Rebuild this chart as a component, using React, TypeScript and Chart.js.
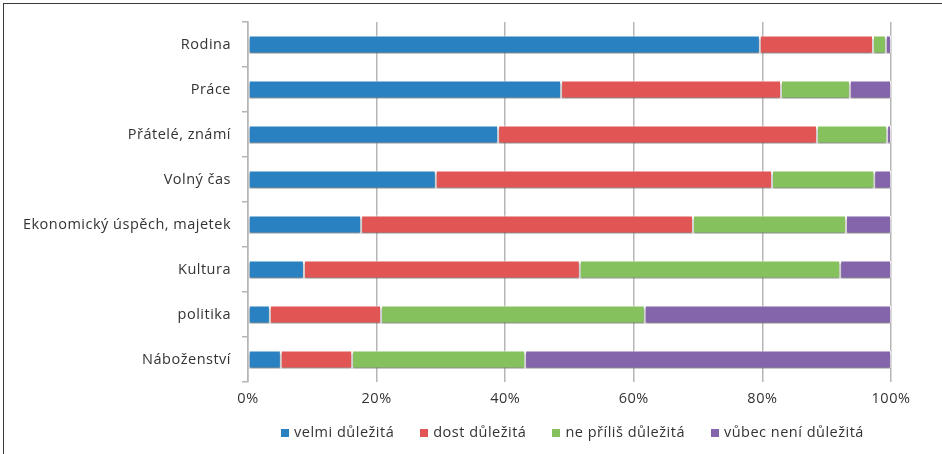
import React, { useEffect, useRef } from "react";
import { Chart, registerables } from "chart.js";

Chart.register(...registerables);

const categories = [
  "Rodina",
  "Práce",
  "Přátelé, známí",
  "Volný čas",
  "Ekonomický úspěch, majetek",
  "Kultura",
  "politika",
  "Náboženství",
];

const seriesNames = ["velmi důležitá", "dost důležitá", "ne příliš důležitá", "vůbec není důležitá"];

const velmi = [79.6, 48.7, 38.9, 29.2, 17.6, 8.7, 3.4, 5.1];
const dost = [17.6, 34.2, 49.6, 52.3, 51.6, 42.9, 17.3, 11.1];
const nePrilis = [2.0, 10.7, 10.9, 15.9, 23.8, 40.5, 41.0, 26.9];
const vubec = [0.8, 6.4, 0.6, 2.6, 7.0, 7.9, 38.3, 56.9];

const xTicks = [0, 20, 40, 60, 80, 100];

const colors = ["#2a81c2", "#e15554", "#85c15c", "#8465ac"];

const FONT = "'Open Sans', 'DejaVu Sans', sans-serif";
const FS = 14.5;
const SPACING = "0.5px";

const shadowPlugin = {
  id: "barShadow",
  beforeUpdate(chart: any) {
    chart.ctx.letterSpacing = SPACING;
  },
  beforeLayout(chart: any) {
    chart.ctx.letterSpacing = SPACING;
  },
  beforeDraw(chart: any) {
    chart.ctx.letterSpacing = SPACING;
  },
  beforeDatasetsDraw(chart: any) {
    const ctx = chart.ctx;
    ctx.save();
    ctx.shadowColor = "rgba(0,0,0,0.45)";
    ctx.shadowOffsetX = 0;
    ctx.shadowOffsetY = 2.5;
    ctx.shadowBlur = 2;
  },
  afterDatasetsDraw(chart: any) {
    chart.ctx.restore();
  },
};

export default function App() {
  const ref = useRef<HTMLCanvasElement | null>(null);

  useEffect(() => {
    if (!ref.current) return;
    const values = [velmi, dost, nePrilis, vubec];
    const chart = new Chart(ref.current, {
      type: "bar",
      data: {
        labels: categories,
        datasets: seriesNames.map((name, i) => ({
          label: name,
          data: values[i],
          backgroundColor: colors[i],
          borderColor: "rgba(255,255,255,0.9)",
          borderWidth: 1,
          borderSkipped: false,
          categoryPercentage: 0.8,
          barPercentage: 0.5,
        })),
      },
      options: {
        indexAxis: "y",
        responsive: false,
        animation: false,
        devicePixelRatio: 1,
        layout: { padding: { top: 22, right: 51, left: 0, bottom: 43 } },
        plugins: {
          tooltip: { enabled: false },
          legend: { display: false },
        },
        scales: {
          x: {
            stacked: true,
            min: 0,
            max: 100,
            afterBuildTicks: (scale: any) => {
              scale.ticks = xTicks.map((v) => ({ value: v }));
            },
            afterFit: (scale: any) => {
              scale.height = 29;
            },
            grid: {
              color: "#b5b5b5",
              lineWidth: 1.5,
              drawTicks: false,
            },
            border: { display: false },
            ticks: {
              padding: 8,
              color: "#333",
              font: { family: FONT, size: FS },
              callback: (v: any) => v + "%",
            },
          },
          y: {
            stacked: true,
            afterFit: (scale: any) => {
              scale.width = 248;
            },
            grid: {
              drawOnChartArea: false,
              drawTicks: true,
              tickLength: 6,
              color: "#b5b5b5",
              lineWidth: 1.5,
              offset: true,
            },
            border: { display: true, color: "#b5b5b5", width: 1.5 },
            ticks: {
              padding: 11,
              color: "#333",
              font: { family: FONT, size: FS },
            },
          },
        },
      },
      plugins: [shadowPlugin],
    } as any);
    return () => chart.destroy();
  }, []);

  return (
    <div style={{ position: "fixed", left: 0, top: 0, width: 942, height: 454, background: "#fff", overflow: "hidden" }}>
      <div
        style={{
          position: "absolute",
          left: 3,
          top: 3,
          width: 1000,
          height: 1000,
          borderLeft: "1.5px solid #3a3a3a",
          borderTop: "1.5px solid #3a3a3a",
        }}
      />
      <canvas ref={ref} width={942} height={454} style={{ position: "absolute", left: 0, top: 0 }} />
      <div
        style={{
          position: "absolute",
          left: 251,
          width: 643,
          top: 422,
          height: 20,
          display: "flex",
          justifyContent: "center",
          alignItems: "center",
          fontFamily: FONT,
          fontSize: FS,
          letterSpacing: SPACING,
          color: "#333",
          whiteSpace: "nowrap",
        }}
      >
        {seriesNames.map((name, i) => (
          <div key={name} style={{ display: "flex", alignItems: "center", marginLeft: i === 0 ? 0 : 26 }}>
            <span style={{ display: "inline-block", width: 8, height: 8, background: colors[i], marginRight: 5, marginTop: 2 }} />
            <span style={{ lineHeight: "20px" }}>{name}</span>
          </div>
        ))}
      </div>
    </div>
  );
}
